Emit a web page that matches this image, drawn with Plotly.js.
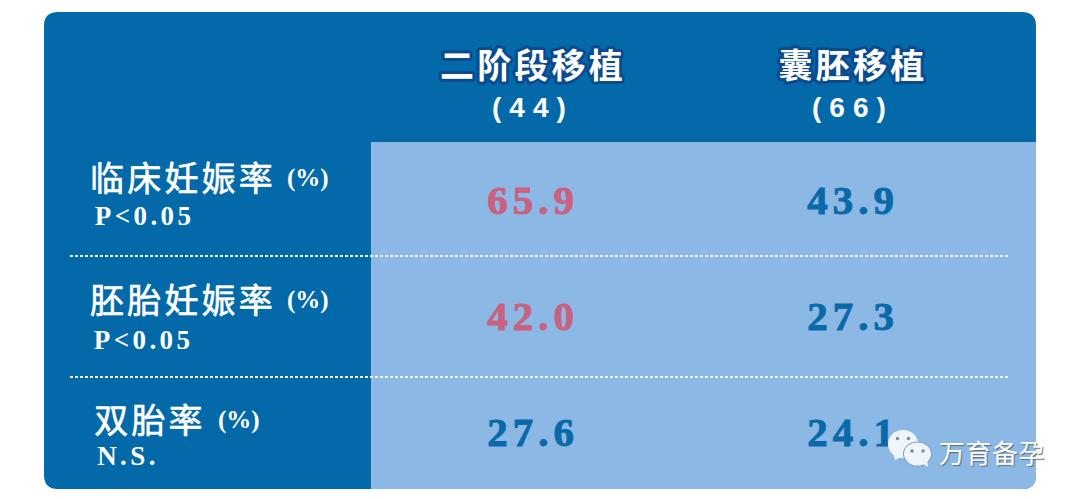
<!DOCTYPE html>
<html><head><meta charset="utf-8">
<script src="https://cdn.plot.ly/plotly-3.0.1.min.js"></script>
<style>html,body{margin:0;padding:0;background:#fff;overflow:hidden}</style>
</head><body><div id="g" style="width:1080px;height:499px"></div>
<script>
const columns = ['二阶段移植', '囊胚移植'];
const groupSizes = ['(44)', '(66)'];
const rows = ['临床妊娠率', '胚胎妊娠率', '双胎率'];
const significance = ['P<0.05', 'P<0.05', 'N.S.'];
const cleavage = [65.9, 42.0, 27.6];
const blastocyst = [43.9, 27.3, 24.1];
const unit = '(%)';
const watermark = '万育备孕';

const W = 1080, H = 499;
const DARK = '#0369a8', LIGHT = '#8bb8e5', PINK = '#c9617f', BLUE = '#0a69a8', HALO = '#0b4a8c';
const CJK = '"Noto Sans CJK SC","Noto Sans",sans-serif';
const SERIF = '"Liberation Serif",serif';
const px = x => x / W, py = y => 1 - y / H;

const colX = [533, 853], rowY = [204, 320, 436];
const dx = colX[1] - colX[0], dy = rowY[1] - rowY[0];
const xr = [-colX[0] / dx, (W - colX[0]) / dx];
const yr = [(H - rowY[0]) / dy, -rowY[0] / dy];

function rr(x0, y0, x1, y1, tl, tr, br, bl) {
  return `M${px(x0 + tl)},${py(y0)} L${px(x1 - tr)},${py(y0)} Q${px(x1)},${py(y0)} ${px(x1)},${py(y0 + tr)} ` +
    `L${px(x1)},${py(y1 - br)} Q${px(x1)},${py(y1)} ${px(x1 - br)},${py(y1)} L${px(x0 + bl)},${py(y1)} ` +
    `Q${px(x0)},${py(y1)} ${px(x0)},${py(y1 - bl)} L${px(x0)},${py(y0 + tl)} Q${px(x0)},${py(y0)} ${px(x0 + tl)},${py(y0)} Z`;
}
const pshape = (path, fill) => ({type: 'path', xref: 'paper', yref: 'paper', path, fillcolor: fill, line: {width: 0}, layer: 'below'});
const ell = (cx, cy, rx, ry, fill) => ({type: 'circle', xref: 'paper', yref: 'paper',
  x0: px(cx - rx), x1: px(cx + rx), y0: py(cy + ry), y1: py(cy - ry), fillcolor: fill, line: {width: 0}, layer: 'above'});
const dash = y => ({type: 'line', xref: 'paper', yref: 'paper', x0: px(70), x1: px(1008), y0: py(y), y1: py(y),
  line: {color: '#f4f8fc', width: 1.8, dash: '3px,2px'}, layer: 'below'});
const tri = (a, b, c, fill) => ({type: 'path', xref: 'paper', yref: 'paper', fillcolor: fill, line: {width: 0}, layer: 'above',
  path: `M${px(a[0])},${py(a[1])} L${px(b[0])},${py(b[1])} L${px(c[0])},${py(c[1])} Z`});

const BUB = '#f0f5fc', EYE = '#6f90b5';
const shapes = [
  pshape(rr(44, 12, 1036, 489, 14, 14, 14, 14), DARK),
  pshape(rr(371, 142, 1036, 489, 0, 0, 14, 0), LIGHT),
  dash(256), dash(377),
  ell(903, 444, 15, 14, BUB), tri([893, 452], [895, 460], [903, 456], BUB),
  ell(897.5, 438.5, 1.8, 1.8, EYE), ell(908.5, 438.5, 1.8, 1.8, EYE),
  ell(917.5, 454, 14.5, 12.5, '#7f9dbf'),
  ell(917.5, 454, 13.5, 11.5, BUB), tri([922, 463], [928, 467], [927, 459], BUB),
  ell(912, 451, 1.8, 1.8, EYE), ell(923, 451, 1.8, 1.8, EYE)
];

const ann = (text, x, y, size, family, opts) => Object.assign({
  text, x: px(x), y: py(y), xref: 'paper', yref: 'paper', xanchor: 'left', yanchor: 'middle', showarrow: false,
  font: Object.assign({size, family, color: '#fff'}, (opts && opts.font) || {}),
}, opts && opts.a);

const spacing = {label: 3.2, col: 3.2, sub: 3.4, size: 8, wm: 0.5, val: 5};
const leftAnn = (text, x, y, size, family, ls, opts) => ann(text, x + text.length * ls / 2, y, size, family, opts);

const annotations = [];
const colLabelX = [532, 852];
columns.forEach((c, i) => {
  annotations.push(ann(c, colLabelX[i] + 1, 63, 34, CJK, {a: {xanchor: 'center'}, font: {weight: 700}}));
  annotations.push(ann(groupSizes[i], colLabelX[i] + 1, 107, 28, '"Liberation Sans",sans-serif', {a: {xanchor: 'center'}, font: {weight: 700}}));
});
const labelY = [176, 298, 418], subY = [216, 340, 456], unitX = [285, 285, 216], labelX = [88, 88, 92], subX = [93, 92, 95];
rows.forEach((r, i) => {
  annotations.push(leftAnn(r, labelX[i], labelY[i], 34, CJK, spacing.label));
  annotations.push(ann(unit, unitX[i], labelY[i] + 2, 25, SERIF, {font: {weight: 700}}));
  annotations.push(leftAnn(significance[i], subX[i], subY[i], 27, SERIF, spacing.sub, {font: {weight: 700}}));
});
annotations.push(ann(watermark, 938, 451, 26, CJK, {font: {shadow: '1px 1px 1px #5a6a7a'}}));

const data = [
  {x: rows.map(() => columns[0]), y: rows, text: cleavage.map(v => v.toFixed(1)), mode: 'text', type: 'scatter',
    textposition: 'middle center', textfont: {family: SERIF, size: 41, weight: 700, color: [PINK, PINK, BLUE]},
    hoverinfo: 'skip', cliponaxis: false},
  {x: rows.map(() => columns[1]), y: rows, text: blastocyst.map(v => v.toFixed(1)), mode: 'text', type: 'scatter',
    textposition: 'middle center', textfont: {family: SERIF, size: 41, weight: 700, color: BLUE},
    hoverinfo: 'skip', cliponaxis: false}
];
const layout = {
  width: W, height: H, margin: {l: 0, r: 0, t: 0, b: 0}, paper_bgcolor: '#fff', plot_bgcolor: 'rgba(0,0,0,0)',
  showlegend: false,
  xaxis: {type: 'category', categoryarray: columns, range: xr, visible: false, fixedrange: true},
  yaxis: {type: 'category', categoryarray: rows, range: yr, visible: false, fixedrange: true},
  shapes, annotations
};
Plotly.newPlot('g', data, layout, {displayModeBar: false, staticPlot: true}).then(() => {
  document.querySelectorAll('#g text').forEach(t => {
    const s = t.textContent, st = t.style;
    if (/^\d\d\.\d$/.test(s)) {
      st.letterSpacing = spacing.val + 'px';
      st.stroke = st.fill; st.strokeWidth = '0.9px';
    } else if (rows.includes(s)) {
      st.letterSpacing = spacing.label + 'px';
      st.stroke = '#fff'; st.strokeWidth = '0.6px';
    } else if (columns.includes(s)) {
      st.letterSpacing = spacing.col + 'px';
      st.stroke = HALO; st.strokeWidth = '6px'; st.strokeLinejoin = 'round'; st.paintOrder = 'stroke';
    } else if (significance.includes(s)) {
      st.letterSpacing = spacing.sub + 'px';
    } else if (groupSizes.includes(s)) {
      st.letterSpacing = spacing.size + 'px';
    } else if (s === watermark) {
      st.letterSpacing = spacing.wm + 'px';
    }
  });
});
</script></body></html>
